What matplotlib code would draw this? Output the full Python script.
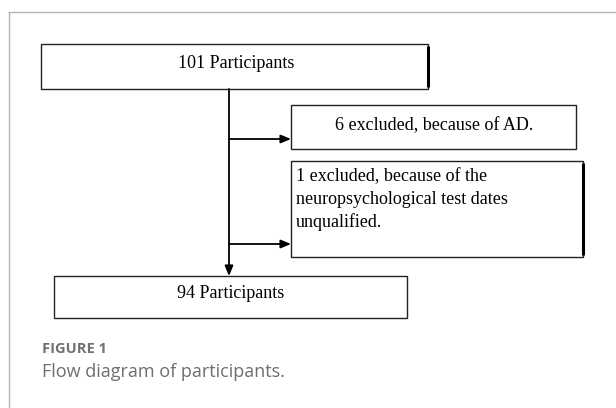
import matplotlib
matplotlib.use("Agg")
import matplotlib.pyplot as plt
from matplotlib.patches import Rectangle

# flow numbers
total_n = 101
excluded_ad = 6
excluded_test = 1
final_n = 94

top_label = f"{total_n} Participants"
ex1_label = f"{excluded_ad} excluded, because of AD."
ex2_lines = [f"{excluded_test} excluded, because of the",
             "neuropsychological test dates",
             "unqualified."]
bottom_label = f"{final_n} Participants"

fig = plt.figure(figsize=(6.16, 4.08), dpi=100)
ax = fig.add_axes([0, 0, 1, 1])
ax.set_xlim(0, 616)
ax.set_ylim(408, 0)
ax.axis("off")

# outer frame (top + left only)
ax.plot([9, 616], [12, 12], color="#b3b3b3", lw=1)
ax.plot([9, 9], [12, 408], color="#b3b3b3", lw=1)

serif = "Liberation Serif"

def box(x0, y0, x1, y1, thick_right=False):
    ax.add_patch(Rectangle((x0, y0), x1 - x0, y1 - y0, fill=False,
                           edgecolor="#222222", lw=1.0))
    if thick_right:
        ax.plot([x1, x1], [y0 + 2, y1 - 2], color="black", lw=2.2,
                solid_capstyle="butt")

box(41, 44, 428, 89, thick_right=True)
box(291, 105, 576, 149)
box(291, 161, 583, 257, thick_right=True)
box(54, 276, 407, 318)

fs = 13
ax.text(236, 64, top_label, ha="center", va="center", fontsize=fs, family=serif)
ax.text(434, 126, ex1_label, ha="center", va="center", fontsize=fs, family=serif)
for i, line in enumerate(ex2_lines):
    ax.text(296, 177 + i * 22.5, line, ha="left", va="center", fontsize=fs, family=serif)
ax.text(231, 293, bottom_label, ha="center", va="center", fontsize=fs, family=serif)

# connectors
arrow = dict(arrowstyle="-|>,head_length=0.6,head_width=0.25", color="black",
             lw=1.3, shrinkA=0, shrinkB=0)
ax.annotate("", xy=(229, 276), xytext=(229, 89), arrowprops=arrow)
ax.annotate("", xy=(291, 139), xytext=(229, 139), arrowprops=arrow)
ax.annotate("", xy=(291, 244), xytext=(229, 244), arrowprops=arrow)

# caption
ax.text(42, 349, "FIGURE 1", ha="left", va="center", fontsize=10.5,
        family="Open Sans", fontweight="bold", color="#707070")
ax.text(42, 372, "Flow diagram of participants.", ha="left", va="center",
        fontsize=13, family="Open Sans", color="#6e6e6e")

fig.savefig("out.png", dpi=100)
